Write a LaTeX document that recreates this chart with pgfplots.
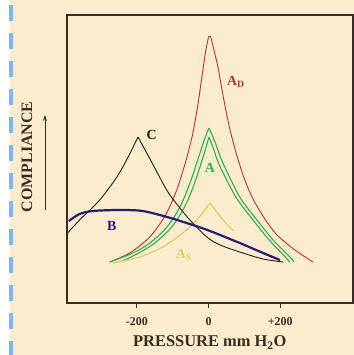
\documentclass[border=0pt]{standalone}
\usepackage{pgfplots}
\pgfplotsset{compat=1.18}
\usepackage{fontspec}
\setmainfont{Liberation Serif}
\usetikzlibrary{arrows.meta}
\definecolor{cream}{RGB}{252,236,206}
\definecolor{dashblue}{RGB}{125,185,240}
\definecolor{boxc}{RGB}{55,45,35}
\definecolor{adred}{RGB}{175,50,60}
\definecolor{agreen}{RGB}{55,170,80}
\definecolor{asyel}{RGB}{215,205,105}
\definecolor{bblue}{RGB}{35,30,115}
\definecolor{cblack}{RGB}{30,30,25}
\begin{document}
\begin{tikzpicture}
\useasboundingbox (0,0) rectangle (354bp,355bp);
\fill[white] (0,0) rectangle (354bp,355bp);
\fill[cream] (10bp,0) rectangle (354bp,355bp);
\draw[dashblue, line width=3.5bp, dash pattern=on 16bp off 12bp] (11bp,350bp) -- (11bp,0);
\begin{axis}[
 at={(66.7bp,52bp)}, anchor=south west,
 scale only axis, width=286.3bp, height=288bp,
 xmin=-396, xmax=403, ymin=0, ymax=288,
 axis line style={boxc, line width=1.6bp},
 xtick={-200,0,200}, xticklabels={{-200},{0},{+200}},
 ytick=\empty,
 tick align=outside, major tick length=5bp, tick style={boxc, line width=1bp},
 xtick pos=bottom,
 xticklabel style={font=\bfseries\fontsize{12}{14}\selectfont, text=boxc, yshift=-6.5bp},
 xlabel={PRESSURE mm H\textsubscript{2}O},
 xlabel style={font=\bfseries\fontsize{16.5}{18}\selectfont, text=boxc, at={(axis description cs:0.5,-0.138)}, anchor=center},
 ylabel={COMPLIANCE},
 ylabel style={font=\bfseries\fontsize{16}{18}\selectfont, text=boxc, at={(axis description cs:-0.139,0.507)}, anchor=center},
 clip=false,
 label style={inner sep=0pt},
]
% A_D (red)
\addplot[adred, line width=0.9bp, smooth, tension=0.45] coordinates {
 (-276,41) (-220,50) (-164,66) (-120,88) (-90,112) (-65,140) (-45,168) (-30,198) (-18,228) (-9,250) (-2,263) (1,267)};
\addplot[adred, line width=0.9bp, smooth, tension=0.45] coordinates {
 (5,267) (9,262) (17,250) (26,236) (36,216) (48,193) (62,170) (80,146) (101,123) (124,104) (157,84) (191,68) (241,53) (291,41)};
\addplot[adred, line width=0.9bp] coordinates {(1,267) (5,267)};
% A (green, double line)
\addplot[agreen, line width=1.1bp, smooth, tension=0.5] coordinates {
 (-276,41) (-211,50) (-164,60) (-116,76) (-80,96) (-52,120) (-24,150) (-10,165) (1,175)};
\addplot[agreen, line width=1.1bp, smooth, tension=0.5] coordinates {
 (1,175) (18,161) (40,140) (87,106) (135,83) (180,63) (227,46) (238,41)};
\addplot[agreen, line width=1.1bp, smooth, tension=0.5] coordinates {
 (-240,42) (-195,50) (-150,60) (-103,76) (-67,96) (-39,120) (-12,150) (1,166)};
\addplot[agreen, line width=1.1bp, smooth, tension=0.5] coordinates {
 (1,166) (14,154) (30,138) (76,106) (124,83) (169,63) (214,46) (226,41)};
% A_S (yellow)
\addplot[asyel, line width=1.2bp, smooth, tension=0.5] coordinates {
 (-267,40) (-192,46) (-128,56) (-72,70) (-33,83) (4,100)};
\addplot[asyel, line width=1.2bp, smooth, tension=0.5] coordinates {
 (4,100) (25,90) (45,81) (70,72)};
% C (black)
\addplot[cblack, line width=0.9bp, smooth, tension=0.5] coordinates {
 (-396,69) (-360,83) (-304,103) (-256,126) (-226,145) (-197,166)};
\addplot[cblack, line width=0.9bp, smooth, tension=0.5] coordinates {
 (-197,166) (-159,141) (-117,113) (-89,99) (-52,83) (-5,66) (32,58) (87,51) (152,44) (208,41)};
% B (blue)
\addplot[bblue, line width=2.2bp, smooth, tension=0.5] coordinates {
 (-390,82) (-360,89) (-323,92) (-248,93) (-184,92) (-116,86) (-44,78) (4,72) (87,60) (152,50) (199,43)};
% curve labels
\node[text=adred, font=\bfseries\fontsize{14}{16}\selectfont] at (axis cs:76,221) {A\textsubscript{D}};
\node[text=cblack, font=\bfseries\fontsize{14}{16}\selectfont] at (axis cs:-159,168) {C};
\node[text=agreen, font=\bfseries\fontsize{14}{16}\selectfont] at (axis cs:4,135) {A};
\node[text=bblue, font=\bfseries\fontsize{14}{16}\selectfont] at (axis cs:-270,77) {B};
\node[text=asyel, font=\bfseries\fontsize{14}{16}\selectfont] at (axis cs:-69,48) {A\textsubscript{S}};
% y arrow
\draw[boxc, line width=0.8bp, -{Stealth[length=6bp,width=4bp]}] (axis description cs:-0.076,0.323) -- (axis description cs:-0.076,0.653);
\end{axis}
\end{tikzpicture}
\end{document}
